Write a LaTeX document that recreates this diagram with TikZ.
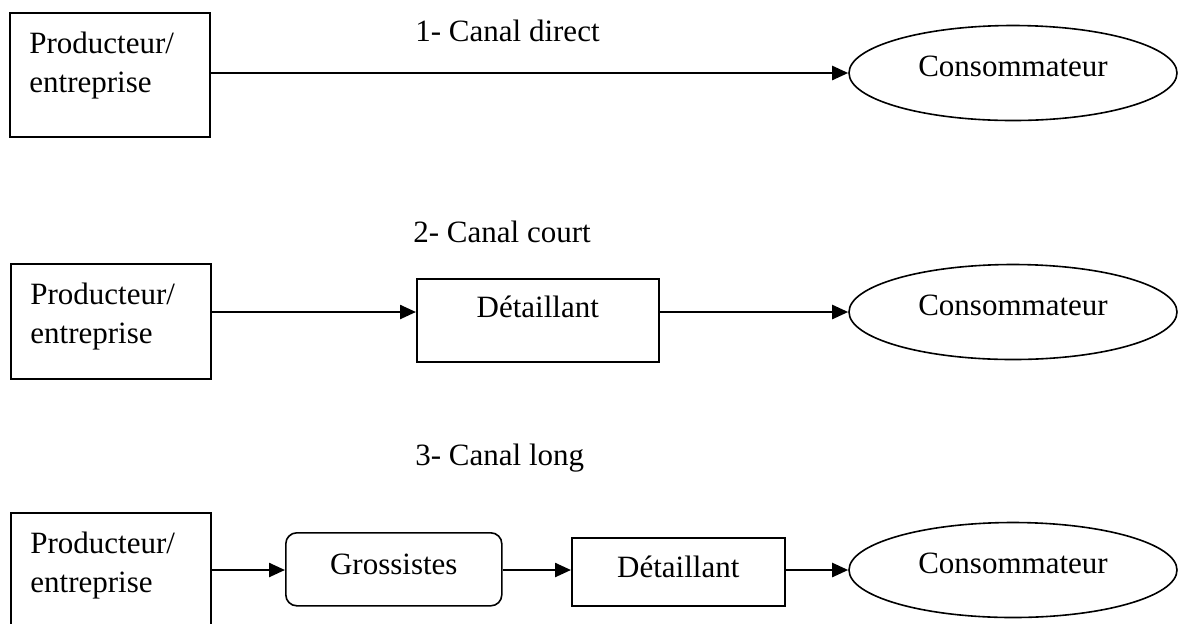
\documentclass[tikz,border=0pt]{standalone}
\usepackage{fontspec}
\setmainfont{Liberation Serif}
\usetikzlibrary{arrows.meta,shapes.geometric}

\begin{document}
\begin{tikzpicture}[x=0.5pt, y=-0.5pt,
    every node/.style={font=\fontsize{15.5}{19.5}\selectfont, inner sep=0pt},
    prodbox/.style={draw, line width=0.8pt, minimum width=100pt, anchor=north west},
    prodtxt/.style={anchor=north west, align=left, xshift=10pt, yshift=-10pt},
    boite/.style={draw, line width=0.8pt, anchor=north west},
    conso/.style={draw, ellipse, line width=0.8pt, minimum width=164pt, minimum height=47.5pt, text height=8pt, text depth=5pt},
    fleche/.style={-{Triangle[length=8pt, width=7pt]}, line width=1.2pt}]
        % Cadre (la derniere boite est coupee en bas)
        \clip (0,0) rectangle (1178,623);

        % 1 - Canal direct
        \node[anchor=base west] (titre1) at (415,41) {1- Canal direct};
        \node[prodbox, minimum height=62pt] (prod1) at (9,12) {};
        \node[prodtxt] (txt1) at (prod1.north west) {Producteur/\\entreprise};
        \node[conso] (cons1) at (1013,73) {Consommateur};
        \draw[fleche] (prod1.east |- cons1.west) -- (cons1.west);

        % 2 - Canal court
        \node[anchor=base west] (titre2) at (413,242) {2- Canal court};
        \node[prodbox, minimum height=57.5pt] (prod2) at (10,263) {};
        \node[prodtxt] (txt2) at (prod2.north west) {Producteur/\\entreprise};
        \node[boite, minimum width=121pt, text height=19.5pt, text depth=22pt] (det2) at (416,278) {Détaillant};
        \node[conso] (cons2) at (1013,312) {Consommateur};
        \draw[fleche] (prod2.east |- cons2.west) -- (det2.west |- cons2.west);
        \draw[fleche] (det2.east |- cons2.west) -- (cons2.west);

        % 3 - Canal long
        \node[anchor=base west] (titre3) at (415,465) {3- Canal long};
        \node[prodbox, minimum height=64pt] (prod3) at (10,512) {};
        \node[prodtxt] (txt3) at (prod3.north west) {Producteur/\\entreprise};
        \node[boite, rounded corners=5.5pt, minimum width=108pt, text height=21pt, text depth=15.5pt] (gros3) at (285,532) {Grossistes};
        \node[boite, minimum width=106.5pt, text height=20pt, text depth=14pt] (det3) at (571,537) {Détaillant};
        \node[conso] (cons3) at (1013,570) {Consommateur};
        \draw[fleche] (prod3.east |- cons3.west) -- (gros3.west |- cons3.west);
        \draw[fleche] (gros3.east |- cons3.west) -- (det3.west |- cons3.west);
        \draw[fleche] (det3.east |- cons3.west) -- (cons3.west);

    \end{tikzpicture}
\end{document}
